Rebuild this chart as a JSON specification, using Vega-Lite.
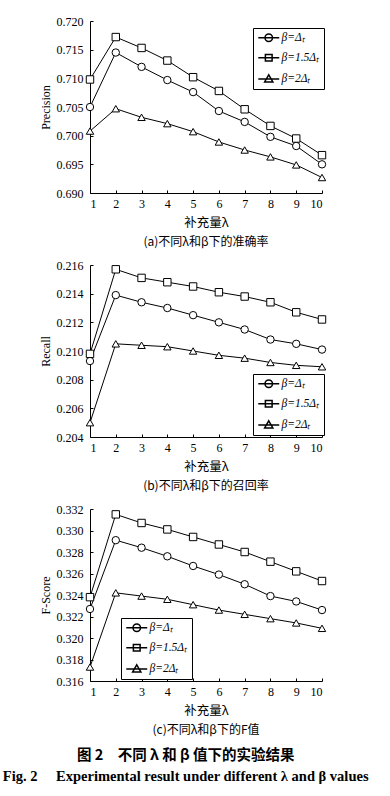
{
  "$schema": "https://vega.github.io/schema/vega-lite/v6.json",
  "background": "white",
  "padding": {"left": 2, "top": 15, "right": 2, "bottom": 5},
  "spacing": 11,
  "datasets": {
    "precision": [
      {"lambda": 1, "beta": "β=Δₜ", "value": 0.7050}, {"lambda": 2, "beta": "β=Δₜ", "value": 0.7145}, {"lambda": 3, "beta": "β=Δₜ", "value": 0.7120}, {"lambda": 4, "beta": "β=Δₜ", "value": 0.7097}, {"lambda": 5, "beta": "β=Δₜ", "value": 0.7076}, {"lambda": 6, "beta": "β=Δₜ", "value": 0.7043}, {"lambda": 7, "beta": "β=Δₜ", "value": 0.7024}, {"lambda": 8, "beta": "β=Δₜ", "value": 0.6998}, {"lambda": 9, "beta": "β=Δₜ", "value": 0.6982}, {"lambda": 10, "beta": "β=Δₜ", "value": 0.6950},
      {"lambda": 1, "beta": "β=1.5Δₜ", "value": 0.7098}, {"lambda": 2, "beta": "β=1.5Δₜ", "value": 0.7172}, {"lambda": 3, "beta": "β=1.5Δₜ", "value": 0.7153}, {"lambda": 4, "beta": "β=1.5Δₜ", "value": 0.7131}, {"lambda": 5, "beta": "β=1.5Δₜ", "value": 0.7102}, {"lambda": 6, "beta": "β=1.5Δₜ", "value": 0.7078}, {"lambda": 7, "beta": "β=1.5Δₜ", "value": 0.7046}, {"lambda": 8, "beta": "β=1.5Δₜ", "value": 0.7017}, {"lambda": 9, "beta": "β=1.5Δₜ", "value": 0.6995}, {"lambda": 10, "beta": "β=1.5Δₜ", "value": 0.6966},
      {"lambda": 1, "beta": "β=2Δₜ", "value": 0.7008}, {"lambda": 2, "beta": "β=2Δₜ", "value": 0.7047}, {"lambda": 3, "beta": "β=2Δₜ", "value": 0.7032}, {"lambda": 4, "beta": "β=2Δₜ", "value": 0.7021}, {"lambda": 5, "beta": "β=2Δₜ", "value": 0.7007}, {"lambda": 6, "beta": "β=2Δₜ", "value": 0.6989}, {"lambda": 7, "beta": "β=2Δₜ", "value": 0.6975}, {"lambda": 8, "beta": "β=2Δₜ", "value": 0.6963}, {"lambda": 9, "beta": "β=2Δₜ", "value": 0.6949}, {"lambda": 10, "beta": "β=2Δₜ", "value": 0.6927}
    ],
    "recall": [
      {"lambda": 1, "beta": "β=Δₜ", "value": 0.2093}, {"lambda": 2, "beta": "β=Δₜ", "value": 0.2139}, {"lambda": 3, "beta": "β=Δₜ", "value": 0.2134}, {"lambda": 4, "beta": "β=Δₜ", "value": 0.2130}, {"lambda": 5, "beta": "β=Δₜ", "value": 0.2125}, {"lambda": 6, "beta": "β=Δₜ", "value": 0.2120}, {"lambda": 7, "beta": "β=Δₜ", "value": 0.2115}, {"lambda": 8, "beta": "β=Δₜ", "value": 0.2108}, {"lambda": 9, "beta": "β=Δₜ", "value": 0.2105}, {"lambda": 10, "beta": "β=Δₜ", "value": 0.2101},
      {"lambda": 1, "beta": "β=1.5Δₜ", "value": 0.2098}, {"lambda": 2, "beta": "β=1.5Δₜ", "value": 0.2157}, {"lambda": 3, "beta": "β=1.5Δₜ", "value": 0.2151}, {"lambda": 4, "beta": "β=1.5Δₜ", "value": 0.2148}, {"lambda": 5, "beta": "β=1.5Δₜ", "value": 0.2145}, {"lambda": 6, "beta": "β=1.5Δₜ", "value": 0.2141}, {"lambda": 7, "beta": "β=1.5Δₜ", "value": 0.2138}, {"lambda": 8, "beta": "β=1.5Δₜ", "value": 0.2134}, {"lambda": 9, "beta": "β=1.5Δₜ", "value": 0.2127}, {"lambda": 10, "beta": "β=1.5Δₜ", "value": 0.2122},
      {"lambda": 1, "beta": "β=2Δₜ", "value": 0.2050}, {"lambda": 2, "beta": "β=2Δₜ", "value": 0.2105}, {"lambda": 3, "beta": "β=2Δₜ", "value": 0.2104}, {"lambda": 4, "beta": "β=2Δₜ", "value": 0.2103}, {"lambda": 5, "beta": "β=2Δₜ", "value": 0.2100}, {"lambda": 6, "beta": "β=2Δₜ", "value": 0.2097}, {"lambda": 7, "beta": "β=2Δₜ", "value": 0.2095}, {"lambda": 8, "beta": "β=2Δₜ", "value": 0.2092}, {"lambda": 9, "beta": "β=2Δₜ", "value": 0.2090}, {"lambda": 10, "beta": "β=2Δₜ", "value": 0.2089}
    ],
    "fscore": [
      {"lambda": 1, "beta": "β=Δₜ", "value": 0.3227}, {"lambda": 2, "beta": "β=Δₜ", "value": 0.3291}, {"lambda": 3, "beta": "β=Δₜ", "value": 0.3284}, {"lambda": 4, "beta": "β=Δₜ", "value": 0.3276}, {"lambda": 5, "beta": "β=Δₜ", "value": 0.3267}, {"lambda": 6, "beta": "β=Δₜ", "value": 0.3259}, {"lambda": 7, "beta": "β=Δₜ", "value": 0.3250}, {"lambda": 8, "beta": "β=Δₜ", "value": 0.3239}, {"lambda": 9, "beta": "β=Δₜ", "value": 0.3234}, {"lambda": 10, "beta": "β=Δₜ", "value": 0.3226},
      {"lambda": 1, "beta": "β=1.5Δₜ", "value": 0.3238}, {"lambda": 2, "beta": "β=1.5Δₜ", "value": 0.3315}, {"lambda": 3, "beta": "β=1.5Δₜ", "value": 0.3307}, {"lambda": 4, "beta": "β=1.5Δₜ", "value": 0.3301}, {"lambda": 5, "beta": "β=1.5Δₜ", "value": 0.3294}, {"lambda": 6, "beta": "β=1.5Δₜ", "value": 0.3287}, {"lambda": 7, "beta": "β=1.5Δₜ", "value": 0.3280}, {"lambda": 8, "beta": "β=1.5Δₜ", "value": 0.3271}, {"lambda": 9, "beta": "β=1.5Δₜ", "value": 0.3262}, {"lambda": 10, "beta": "β=1.5Δₜ", "value": 0.3253},
      {"lambda": 1, "beta": "β=2Δₜ", "value": 0.3173}, {"lambda": 2, "beta": "β=2Δₜ", "value": 0.3242}, {"lambda": 3, "beta": "β=2Δₜ", "value": 0.3239}, {"lambda": 4, "beta": "β=2Δₜ", "value": 0.3236}, {"lambda": 5, "beta": "β=2Δₜ", "value": 0.3231}, {"lambda": 6, "beta": "β=2Δₜ", "value": 0.3226}, {"lambda": 7, "beta": "β=2Δₜ", "value": 0.3222}, {"lambda": 8, "beta": "β=2Δₜ", "value": 0.3218}, {"lambda": 9, "beta": "β=2Δₜ", "value": 0.3214}, {"lambda": 10, "beta": "β=2Δₜ", "value": 0.3209}
    ]
  },
  "title": {
    "text": "图 2　不同 λ 和 β 值下的实验结果",
    "subtitle": "Fig. 2　 Experimental result under different λ and β values",
    "orient": "bottom",
    "anchor": "middle",
    "font": "Noto Sans CJK SC",
    "fontSize": 14.5,
    "fontWeight": "bold",
    "color": "black",
    "subtitleFont": "Liberation Serif",
    "subtitleFontSize": 14.5,
    "subtitleFontWeight": "bold",
    "subtitleColor": "black",
    "subtitlePadding": 7,
    "offset": 13
  },
  "vconcat": [
    {
      "data": {"name": "precision"},
      "width": 232,
      "height": 172,
      "title": {"text": "(a)不同λ和β下的准确率"},
      "encoding": {
        "x": {"field": "lambda", "type": "quantitative", "scale": {"domain": [1, 10]}, "axis": {"values": [1,2,3,4,5,6,7,8,9,10], "format": "d", "title": "补充量λ"}},
        "y": {"field": "value", "type": "quantitative", "scale": {"domain": [0.690, 0.720], "zero": false}, "axis": {"values": [0.690, 0.695, 0.700, 0.705, 0.710, 0.715, 0.720], "format": ".3f", "title": "Precision"}}
      },
      "layer": [
        {"mark": {"type": "line", "color": "black", "strokeWidth": 1}, "encoding": {"detail": {"field": "beta"}}},
        {"mark": {"type": "point", "color": "black", "fill": "white", "filled": true, "fillOpacity": 1, "stroke": "black", "strokeWidth": 1, "opacity": 1, "size": 55},
         "encoding": {"shape": {"field": "beta", "type": "nominal", "scale": {"domain": ["β=Δₜ", "β=1.5Δₜ", "β=2Δₜ"], "range": ["circle", "square", "triangle-up"]}, "legend": null}}},
        {"mark": {"type": "point", "color": "black", "filled": false, "stroke": "black", "strokeWidth": 1, "opacity": 0, "size": 55},
         "encoding": {"shape": {"field": "beta", "type": "nominal", "scale": {"domain": ["β=Δₜ", "β=1.5Δₜ", "β=2Δₜ"], "range": ["M-2.8,0H2.8M1,0A1,1,0,1,1,-1,0A1,1,0,1,1,1,0", "M-2.8,0H2.8M-0.9,-0.9H0.9V0.9H-0.9Z", "M-2.8,0.1H2.8M0,-1.05L1.1,0.85H-1.1Z"]},
           "legend": {"title": null, "orient": "none", "legendX": 163, "legendY": 7, "strokeColor": "black", "fillColor": "white", "padding": 4, "labelFont": "Liberation Serif", "labelFontSize": 11.5, "labelFontStyle": "italic", "labelColor": "black", "rowPadding": 6, "symbolSize": 56, "symbolOffset": 6, "labelOffset": 7, "symbolOpacity": 1}}}}
      ],
      "resolve": {"scale": {"shape": "independent"}, "legend": {"shape": "independent"}}
    },
    {
      "data": {"name": "recall"},
      "width": 232,
      "height": 172,
      "title": {"text": "(b)不同λ和β下的召回率"},
      "encoding": {
        "x": {"field": "lambda", "type": "quantitative", "scale": {"domain": [1, 10]}, "axis": {"values": [1,2,3,4,5,6,7,8,9,10], "format": "d", "title": "补充量λ"}},
        "y": {"field": "value", "type": "quantitative", "scale": {"domain": [0.204, 0.216], "zero": false}, "axis": {"values": [0.204, 0.206, 0.208, 0.210, 0.212, 0.214, 0.216], "format": ".3f", "title": "Recall"}}
      },
      "layer": [
        {"mark": {"type": "line", "color": "black", "strokeWidth": 1}, "encoding": {"detail": {"field": "beta"}}},
        {"mark": {"type": "point", "color": "black", "fill": "white", "filled": true, "fillOpacity": 1, "stroke": "black", "strokeWidth": 1, "opacity": 1, "size": 55},
         "encoding": {"shape": {"field": "beta", "type": "nominal", "scale": {"domain": ["β=Δₜ", "β=1.5Δₜ", "β=2Δₜ"], "range": ["circle", "square", "triangle-up"]}, "legend": null}}},
        {"mark": {"type": "point", "color": "black", "filled": false, "stroke": "black", "strokeWidth": 1, "opacity": 0, "size": 55},
         "encoding": {"shape": {"field": "beta", "type": "nominal", "scale": {"domain": ["β=Δₜ", "β=1.5Δₜ", "β=2Δₜ"], "range": ["M-2.8,0H2.8M1,0A1,1,0,1,1,-1,0A1,1,0,1,1,1,0", "M-2.8,0H2.8M-0.9,-0.9H0.9V0.9H-0.9Z", "M-2.8,0.1H2.8M0,-1.05L1.1,0.85H-1.1Z"]},
           "legend": {"title": null, "orient": "none", "legendX": 163, "legendY": 109, "strokeColor": "black", "fillColor": "white", "padding": 4, "labelFont": "Liberation Serif", "labelFontSize": 11.5, "labelFontStyle": "italic", "labelColor": "black", "rowPadding": 6, "symbolSize": 56, "symbolOffset": 6, "labelOffset": 7, "symbolOpacity": 1}}}}
      ],
      "resolve": {"scale": {"shape": "independent"}, "legend": {"shape": "independent"}}
    },
    {
      "data": {"name": "fscore"},
      "width": 232,
      "height": 172,
      "title": {"text": "(c)不同λ和β下的F值"},
      "encoding": {
        "x": {"field": "lambda", "type": "quantitative", "scale": {"domain": [1, 10]}, "axis": {"values": [1,2,3,4,5,6,7,8,9,10], "format": "d", "title": "补充量λ"}},
        "y": {"field": "value", "type": "quantitative", "scale": {"domain": [0.316, 0.332], "zero": false}, "axis": {"values": [0.316, 0.318, 0.320, 0.322, 0.324, 0.326, 0.328, 0.330, 0.332], "format": ".3f", "title": "F-Score"}}
      },
      "layer": [
        {"mark": {"type": "line", "color": "black", "strokeWidth": 1}, "encoding": {"detail": {"field": "beta"}}},
        {"mark": {"type": "point", "color": "black", "fill": "white", "filled": true, "fillOpacity": 1, "stroke": "black", "strokeWidth": 1, "opacity": 1, "size": 55},
         "encoding": {"shape": {"field": "beta", "type": "nominal", "scale": {"domain": ["β=Δₜ", "β=1.5Δₜ", "β=2Δₜ"], "range": ["circle", "square", "triangle-up"]}, "legend": null}}},
        {"mark": {"type": "point", "color": "black", "filled": false, "stroke": "black", "strokeWidth": 1, "opacity": 0, "size": 55},
         "encoding": {"shape": {"field": "beta", "type": "nominal", "scale": {"domain": ["β=Δₜ", "β=1.5Δₜ", "β=2Δₜ"], "range": ["M-2.8,0H2.8M1,0A1,1,0,1,1,-1,0A1,1,0,1,1,1,0", "M-2.8,0H2.8M-0.9,-0.9H0.9V0.9H-0.9Z", "M-2.8,0.1H2.8M0,-1.05L1.1,0.85H-1.1Z"]},
           "legend": {"title": null, "orient": "none", "legendX": 31, "legendY": 109, "strokeColor": "black", "fillColor": "white", "padding": 4, "labelFont": "Liberation Serif", "labelFontSize": 11.5, "labelFontStyle": "italic", "labelColor": "black", "rowPadding": 6, "symbolSize": 56, "symbolOffset": 6, "labelOffset": 7, "symbolOpacity": 1}}}}
      ],
      "resolve": {"scale": {"shape": "independent"}, "legend": {"shape": "independent"}}
    }
  ],
  "resolve": {"scale": {"shape": "independent"}, "legend": {"shape": "independent"}},
  "config": {
    "view": {"stroke": null},
    "axis": {
      "grid": false,
      "domainColor": "black",
      "domainWidth": 1,
      "tickColor": "black",
      "tickSize": -3,
      "tickWidth": 1,
      "labelFont": "Liberation Serif",
      "labelFontSize": 12,
      "labelColor": "black",
      "labelPadding": 10,
      "titleFont": "Liberation Serif",
      "titleFontSize": 12,
      "titleFontWeight": "normal",
      "titleColor": "black"
    },
    "axisX": {"labelPadding": 8, "titleFont": "Noto Sans CJK SC", "titleFontSize": 12.5, "titlePadding": 7},
    "axisY": {"titlePadding": 4},
    "title": {"orient": "bottom", "font": "Noto Sans CJK SC", "fontSize": 12, "fontWeight": "normal", "color": "black", "offset": 8, "anchor": "middle"}
  }
}
